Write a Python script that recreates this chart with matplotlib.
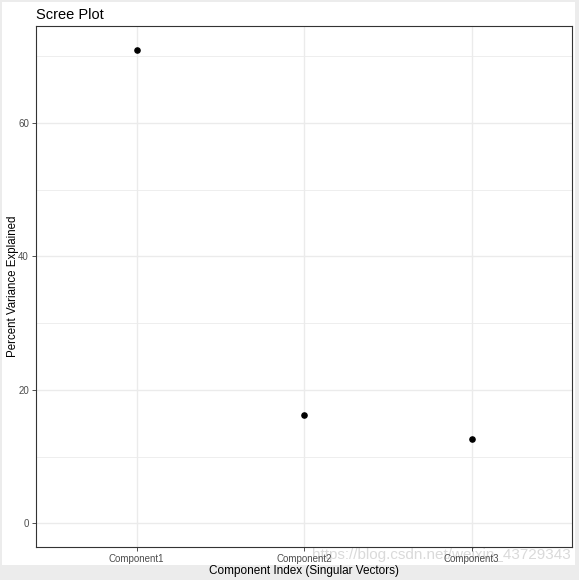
import matplotlib
matplotlib.use('Agg')
import matplotlib.pyplot as plt
from matplotlib.patches import Rectangle


components = ['Component1', 'Component2', 'Component3']
variance_pct = [71.0, 16.3, 12.7]
y_major = [0, 20, 40, 60]
y_minor = [10, 30, 50, 70]


def main():
    plt.rcParams['font.family'] = ['Liberation Sans', 'DejaVu Sans']
    fig = plt.figure(figsize=(5.79, 5.80), dpi=100)
    fig.patch.set_facecolor('#ececec')
    # white plot area inside the screenshot frame
    fig.patches.append(Rectangle((2 / 579, 1 - 565 / 580), 573 / 579, 563 / 580,
                                 transform=fig.transFigure, facecolor='white',
                                 edgecolor='none', zorder=-5))

    fig.text(0.985, 1 - 555 / 580, 'https://blog.csdn.net/weixin_43729343',
             ha='right', va='center', fontsize=11, color='#dadada', zorder=1)

    ax = fig.add_axes([36 / 579, 1 - 547 / 580, 536 / 579, 521 / 580])
    ax.set_zorder(2)
    ax.patch.set_facecolor('white')
    x = list(range(len(components)))
    ax.scatter(x, variance_pct, s=14, c='black', zorder=3)

    ax.set_xlim(-0.6, len(components) - 1 + 0.6)
    ax.set_ylim(-0.05 * max(variance_pct), 1.05 * max(variance_pct))
    ax.set_xticks(x)
    ax.set_xticklabels(components)
    ax.set_yticks(y_major)
    ax.set_yticks(y_minor, minor=True)

    ax.grid(True, which='major', color='#ebebeb', linewidth=1.0, zorder=0)
    ax.grid(True, which='minor', axis='y', color='#ebebeb', linewidth=0.6, zorder=0)
    ax.set_axisbelow(True)
    for s in ax.spines.values():
        s.set_color('#333333')
        s.set_linewidth(0.8)
    ax.tick_params(which='major', length=3, width=0.6, color='#333333',
                   labelsize=7, labelcolor='#4d4d4d', pad=2)
    ax.tick_params(which='minor', length=0)

    ax.set_xlabel('Component Index (Singular Vectors)', fontsize=8.5, labelpad=1)
    ax.set_ylabel('Percent Variance Explained', fontsize=8.3)
    ax.yaxis.set_label_coords(-17 / 536, 0.5)
    ax.set_title('Scree Plot', loc='left', fontsize=10.5, pad=5)

    fig.savefig('out.png', dpi=100, facecolor=fig.get_facecolor())


if __name__ == '__main__':
    main()
